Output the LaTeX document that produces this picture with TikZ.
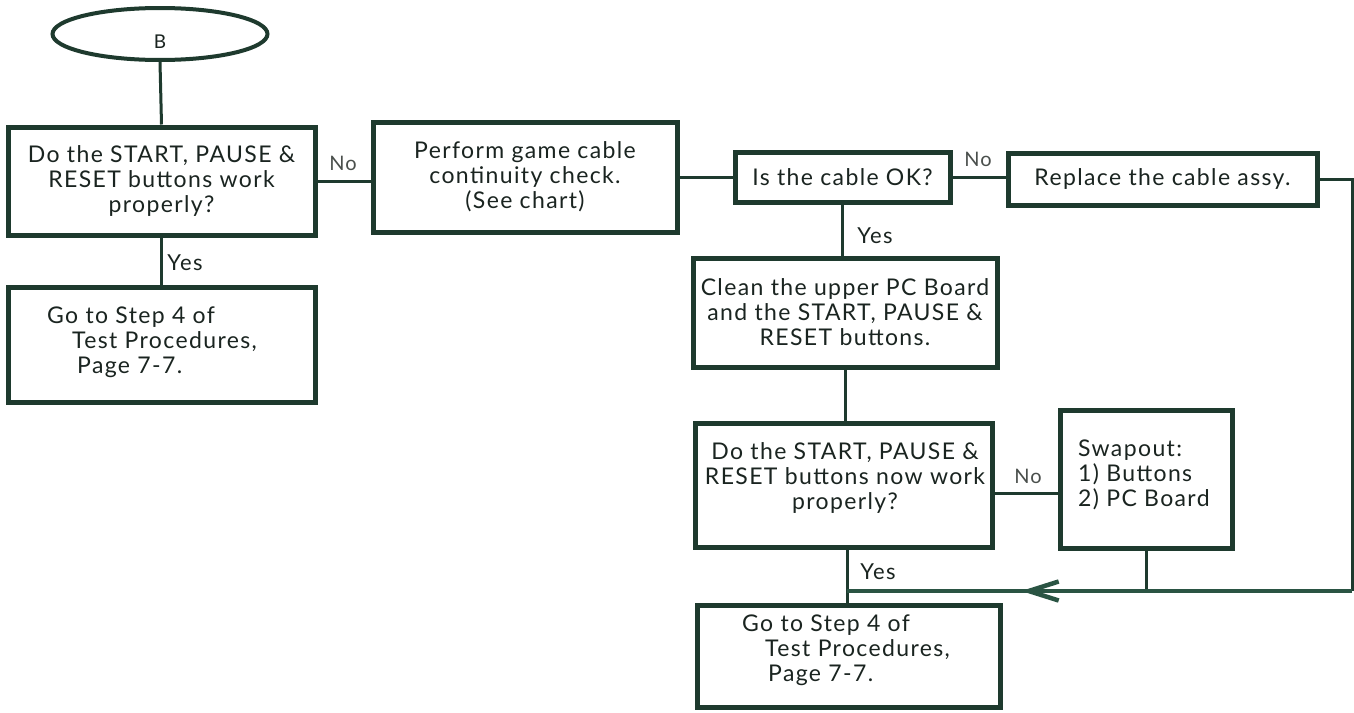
\documentclass[tikz,border=0pt]{standalone}
\usepackage{fontspec}
\setmainfont{Lato}
\newfontfamily\dfont[LetterSpace=6]{Lato}
\usetikzlibrary{arrows.meta,decorations.markings,shapes.geometric}
\definecolor{ink}{HTML}{1E3A2E}
\definecolor{inkg}{HTML}{2A5443}
\definecolor{txt}{HTML}{1A2420}
\definecolor{nogray}{HTML}{4A4F4C}
\begin{document}
\begin{tikzpicture}[x=1pt,y=-1pt,
  box/.style={draw=ink,line width=5pt,rectangle,inner sep=0pt,align=center,text=txt,font=\dfont\fontsize{23}{25}\selectfont},
  conn/.style={draw=ink,line width=3pt},
  lbl/.style={text=txt,font=\dfont\fontsize{22}{24}\selectfont,inner sep=0pt},
  nolbl/.style={text=nogray,font=\dfont\fontsize{20}{22}\selectfont,inner sep=0pt},
  txtn/.style={text=txt,font=\dfont\fontsize{23}{25}\selectfont,inner sep=0pt,align=left}]
\useasboundingbox (0,0) rectangle (1354,712);
\fill[white] (0,0) rectangle (1354,712);

\node[draw=ink,line width=4pt,ellipse,minimum width=215pt,minimum height=52pt,inner sep=0pt] (b) at (160,34) {};
\node[lbl,font=\dfont\fontsize{19}{20}\selectfont] (bt) at (160,42) {B};

\node[box,minimum width=307pt,minimum height=108pt] (q1) at (161.5,181) {Do the START, PAUSE \&\\RESET buttons work\\properly?};
\node[box,minimum width=307pt,minimum height=115pt] (g1) at (161.5,344.5) {};
\node[txtn,anchor=west] (g1t) at (47,342) {Go to Step 4 of\\\hspace*{25pt}Test Procedures,\\\hspace*{30pt}Page 7-7.};
\node[box,minimum width=304pt,minimum height=110pt] (perf) at (525,177) {Perform game cable\\continuity check.\\(See chart)};
\node[box,minimum width=215pt,minimum height=50pt] (cab) at (842.5,177) {Is the cable OK?};
\node[box,minimum width=309pt,minimum height=52pt] (rep) at (1162.5,179) {Replace the cable assy.};
\node[box,minimum width=304pt,minimum height=109pt] (clean) at (845,312.5) {Clean the upper PC Board\\and the START, PAUSE \&\\RESET buttons.};
\node[box,minimum width=297pt,minimum height=124pt] (q2) at (843.5,485) {};
\node[txtn,align=center] (q2t) at (845,478) {Do the START, PAUSE \&\\RESET buttons now work\\properly?};
\node[box,minimum width=172pt,minimum height=138pt] (swap) at (1146,479) {};
\node[txtn,anchor=west] (swapt) at (1078,475) {Swapout:\\1) Buttons\\2) PC Board};
\node[box,minimum width=303pt,minimum height=102pt] (g2) at (848.5,656) {};
\node[txtn,anchor=west] (g2t) at (742,650) {Go to Step 4 of\\\hspace*{23pt}Test Procedures,\\\hspace*{26pt}Page 7-7.};

\coordinate (c1) at (1352,178);
\coordinate (c2) at (1352,591);
\coordinate (j) at (847,591);

\draw[conn] (b.south) -- (q1.north);
\draw[conn] (q1.south) -- (g1.north);
\draw[conn] (q1.east) -- (q1.east -| perf.west);
\draw[conn] (perf.east |- cab.west) -- (cab.west);
\draw[conn] (cab.east) -- (cab.east -| rep.west);
\draw[conn] (rep.east) -- (rep.east -| c1) -- (c2);
\draw[conn] (cab.south) -- (cab.south |- clean.north);
\draw[conn] (clean.south) -- (clean.south |- q2.north);
\draw[conn] ([yshift=-8pt]q2.east) -- ([yshift=-8pt]q2.east -| swap.west);
\draw[conn] (j |- q2.south) -- (j |- g2.north);
\draw[conn] (swap.south) -- (swap.south |- j);
\draw[conn,draw=inkg,line width=4pt,postaction={decorate},
  decoration={markings,mark=at position 0.655 with {\arrow[inkg,line width=4.5pt]{Straight Barb[length=30pt,width=19pt]}}}]
  (c2) -- (j);

\node[nolbl] (no1) at (343,163) {No};
\node[lbl] (yes1) at (185,263) {Yes};
\node[nolbl] (no2) at (978,159) {No};
\node[lbl] (yes2) at (875,236) {Yes};
\node[nolbl] (no3) at (1028,476) {No};
\node[lbl] (yes3) at (878,572) {Yes};
\end{tikzpicture}
\end{document}
